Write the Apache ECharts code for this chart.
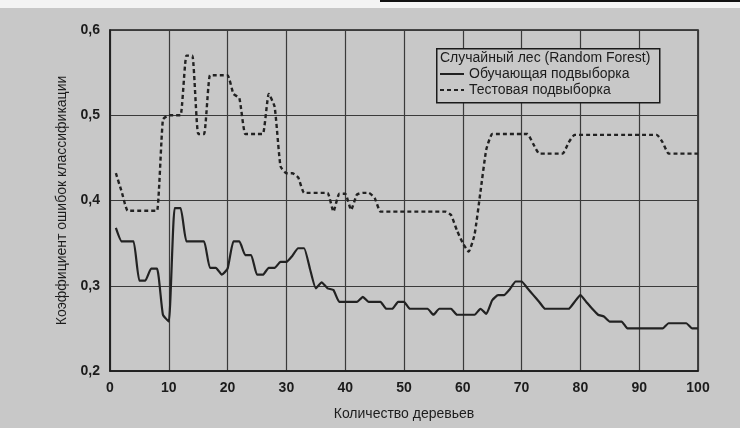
<!DOCTYPE html>
<html>
<head>
<meta charset="utf-8">
<script src="https://cdn.jsdelivr.net/npm/echarts@6/dist/echarts.min.js"></script>
<style>html,body{margin:0;padding:0;background:#c8c8c8;}#c{width:740px;height:428px;}</style>
</head>
<body>
<div id="c"></div>
<script>
var trees = [];
for (var i = 1; i <= 100; i++) trees.push(i);

var trainError = [
  0.368,0.352,0.352,0.352,0.306,0.306,0.320,0.320,0.266,0.258,
  0.391,0.391,0.352,0.352,0.352,0.352,0.321,0.321,0.313,0.320,
  0.352,0.352,0.336,0.336,0.313,0.313,0.321,0.321,0.328,0.328,
  0.335,0.344,0.344,0.320,0.297,0.304,0.297,0.295,0.281,0.281,
  0.281,0.281,0.287,0.281,0.281,0.281,0.273,0.273,0.281,0.281,
  0.273,0.273,0.273,0.273,0.266,0.273,0.273,0.273,0.266,0.266,
  0.266,0.266,0.273,0.267,0.283,0.289,0.289,0.296,0.305,0.305,
  0.297,0.289,0.281,0.273,0.273,0.273,0.273,0.273,0.281,0.289,
  0.281,0.273,0.266,0.264,0.258,0.258,0.258,0.250,0.250,0.250,
  0.250,0.250,0.250,0.250,0.256,0.256,0.256,0.256,0.250,0.250
];

var testError = [
  0.432,0.410,0.388,0.388,0.388,0.388,0.388,0.388,0.495,0.500,
  0.500,0.500,0.570,0.570,0.478,0.478,0.547,0.547,0.547,0.547,
  0.525,0.520,0.478,0.478,0.478,0.478,0.525,0.510,0.440,0.432,
  0.432,0.427,0.409,0.409,0.409,0.409,0.409,0.387,0.408,0.408,
  0.389,0.407,0.409,0.409,0.403,0.387,0.387,0.387,0.387,0.387,
  0.387,0.387,0.387,0.387,0.387,0.387,0.387,0.383,0.365,0.350,
  0.340,0.360,0.410,0.460,0.478,0.478,0.478,0.478,0.478,0.478,
  0.478,0.466,0.455,0.455,0.455,0.455,0.455,0.468,0.477,0.477,
  0.477,0.477,0.477,0.477,0.477,0.477,0.477,0.477,0.477,0.477,
  0.477,0.477,0.477,0.468,0.455,0.455,0.455,0.455,0.455,0.455
];

var xTicks = [0,10,20,30,40,50,60,70,80,90,100];
var yTicks = [0.2,0.3,0.4,0.5,0.6];
var legendTitle = 'Случайный лес (Random Forest)';
var seriesNames = ['Обучающая подвыборка', 'Тестовая подвыборка'];
var xName = 'Количество деревьев';
var yName = 'Коэффициент ошибок классификации';

function pairs(xs, ys) { return xs.map(function (x, i) { return [x, ys[i]]; }); }

var FONT = '"Liberation Sans", Arial, sans-serif';
var TXT = '#1c1c1c';
var chart = echarts.init(document.getElementById('c'), null, {renderer: 'canvas'});
chart.setOption({
  backgroundColor: '#c8c8c8',
  animation: false,
  textStyle: {fontFamily: FONT, color: TXT},
  grid: {left: 110, right: 42, top: 30, bottom: 57, show: true, borderColor: '#1a1a1a', borderWidth: 1.5, backgroundColor: 'transparent'},
  xAxis: {
    type: 'value', min: xTicks[0], max: xTicks[xTicks.length - 1], interval: 10,
    name: xName, nameLocation: 'middle', nameGap: 36,
    nameTextStyle: {fontFamily: FONT, fontSize: 14, color: TXT},
    axisLine: {show: true, lineStyle: {color: '#1a1a1a', width: 1.5}},
    axisTick: {show: false},
    axisLabel: {fontFamily: FONT, fontSize: 14, fontWeight: 'bold', color: TXT, margin: 10},
    splitLine: {show: true, lineStyle: {color: '#3a3a3a', width: 1.2}}
  },
  yAxis: {
    type: 'value', min: yTicks[0], max: yTicks[yTicks.length - 1], interval: 0.1,
    name: yName, nameLocation: 'middle', nameGap: 40, nameRotate: 90,
    nameTextStyle: {fontFamily: FONT, fontSize: 14, color: TXT},
    axisLine: {show: true, lineStyle: {color: '#1a1a1a', width: 1.5}},
    axisTick: {show: false},
    axisLabel: {fontFamily: FONT, fontSize: 14, fontWeight: 'bold', color: TXT, margin: 10,
      formatter: function (v) { return v.toFixed(1).replace('.', ','); }},
    splitLine: {show: true, lineStyle: {color: '#3a3a3a', width: 1.2}}
  },
  legend: {
    orient: 'vertical', left: 439, top: 67, itemGap: 2, itemWidth: 24, itemHeight: 12,
    z: 20, padding: 0,
    itemStyle: {opacity: 0},
    lineStyle: {width: 2},
    textStyle: {fontFamily: FONT, fontSize: 14, color: TXT, padding: [0, 0, 0, 0]},
    data: seriesNames
  },
  graphic: [
    {type: 'rect', left: 0, top: 0, shape: {width: 740, height: 8}, style: {fill: '#f4f4f4'}, z: 100},
    {type: 'rect', left: 380, top: 0, shape: {width: 360, height: 2}, style: {fill: '#111'}, z: 101},
    {type: 'rect', left: 436, top: 48, shape: {width: 223, height: 54}, style: {fill: '#c8c8c8', stroke: '#1a1a1a', lineWidth: 1.5}, z: 5},
    {type: 'text', left: 440, top: 51, style: {text: legendTitle, font: '14px ' + FONT, fill: TXT}, z: 6}
  ],
  series: [
    {
      name: seriesNames[0], type: 'line', data: pairs(trees, trainError),
      showSymbol: false, symbol: 'none', smooth: 0.15,
      lineStyle: {color: '#222222', width: 2.2, type: 'solid'},
      itemStyle: {color: '#222222'}, z: 3
    },
    {
      name: seriesNames[1], type: 'line', data: pairs(trees, testError),
      showSymbol: false, symbol: 'none', smooth: 0.15,
      lineStyle: {color: '#222222', width: 2.4, type: [4, 3]},
      itemStyle: {color: '#222222'}, z: 3
    }
  ]
});
</script>
</body>
</html>
